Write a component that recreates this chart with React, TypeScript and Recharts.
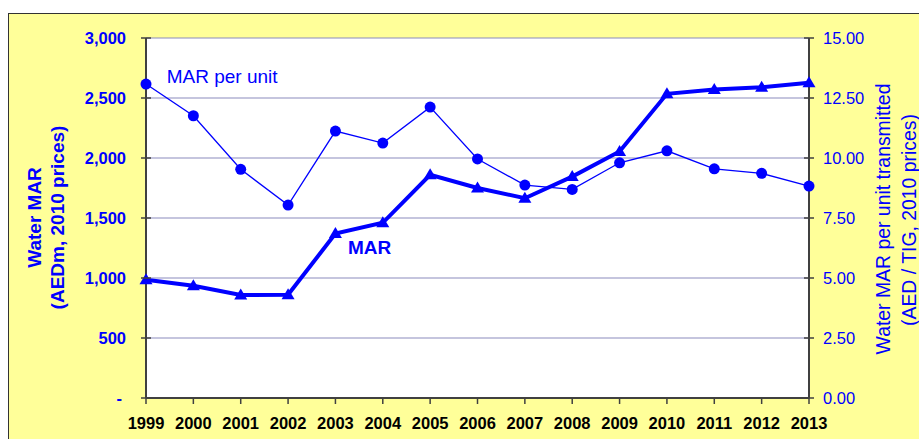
import React from 'react';
import { LineChart, Line, XAxis, YAxis, CartesianGrid } from 'recharts';

const years = ['1999', '2000', '2001', '2002', '2003', '2004', '2005', '2006', '2007', '2008', '2009', '2010', '2011', '2012', '2013'];
const marValues = [985, 935, 858, 860, 1370, 1460, 1860, 1750, 1665, 1845, 2055, 2535, 2570, 2590, 2628];
const marPerUnitValues = [13.08, 11.76, 9.53, 8.04, 11.12, 10.62, 12.12, 9.96, 8.87, 8.69, 9.8, 10.3, 9.55, 9.36, 8.83];
const leftTicks = [0, 500, 1000, 1500, 2000, 2500, 3000];
const rightTicks = [0, 2.5, 5, 7.5, 10, 12.5, 15];

const data = years.map((year, i) => ({
  year,
  mar: marValues[i],
  perUnit: marPerUnitValues[i],
}));

const FONT = '"Liberation Sans", Arial, sans-serif';
const BLUE = '#0000FF';
const AXIS = '#404040';

const LeftTick = (props: any) => {
  const { x, y, payload } = props;
  const v = payload.value;
  const label = v === 0 ? '-' : v.toLocaleString('en-US');
  return (
    <g>
      <line x1={x + 15} y1={y} x2={x + 25} y2={y} stroke={AXIS} strokeWidth={1.5} />
      <text x={v === 0 ? x - 4 : x} y={y} dy="0.355em" textAnchor="end" fill={BLUE} fontSize={16.5} fontWeight="bold" fontFamily={FONT}>
        {label}
      </text>
    </g>
  );
};

const RightTick = (props: any) => {
  const { x, y, payload } = props;
  return (
    <g>
      <line x1={x - 19} y1={y} x2={x - 9} y2={y} stroke={AXIS} strokeWidth={1.5} />
      <text x={x} y={y} dy="0.355em" textAnchor="start" fill={BLUE} fontSize={16.5} fontFamily={FONT}>
        {Number(payload.value).toFixed(2)}
      </text>
    </g>
  );
};

const YearTick = (props: any) => {
  const { x, y, payload } = props;
  return (
    <text x={x} y={y + 25} textAnchor="middle" fill="#000" fontSize={16.5} fontWeight="bold" fontFamily={FONT}>
      {payload.value}
    </text>
  );
};

const Triangle = (props: any) => {
  const { cx, cy, index } = props;
  if (cx == null || cy == null) return null;
  return <path key={`tri-${index}`} d={`M${cx},${cy - 6.5} L${cx + 6.5},${cy + 4.5} L${cx - 6.5},${cy + 4.5} Z`} fill={BLUE} />;
};

export default function App() {
  return (
    <div style={{ position: 'fixed', left: 0, top: 0, width: 919, height: 439, overflow: 'hidden', background: '#fff', fontFamily: FONT }}>
      <div
        style={{
          position: 'absolute',
          left: 8,
          top: 13,
          width: 930,
          height: 450,
          background: '#FFFF99',
          borderLeft: '1.5px solid #333',
          borderTop: '1.5px solid #333',
        }}
      />
      <div style={{ position: 'absolute', left: 8, top: 8 }}>
        <LineChart width={911} height={423} data={data} margin={{ top: 30, right: 0, bottom: 0, left: 0 }}>
          <CartesianGrid yAxisId="left" vertical={false} stroke="#8C8CBE" strokeWidth={1.2} fill="#FFFFFF" />
          <XAxis
            dataKey="year"
            height={33}
            tickSize={6}
            tickMargin={0}
            tick={<YearTick />}
            tickLine={{ stroke: AXIS, strokeWidth: 1.5 }}
            axisLine={{ stroke: AXIS, strokeWidth: 2 }}
            interval={0}
          />
          <YAxis
            yAxisId="left"
            orientation="left"
            width={138}
            domain={[0, 3000]}
            ticks={leftTicks}
            tickSize={5}
            tickMargin={15}
            tickLine={false}
            tick={<LeftTick />}
            axisLine={{ stroke: AXIS, strokeWidth: 2 }}
            interval={0}
          />
          <YAxis
            yAxisId="right"
            orientation="right"
            width={110}
            domain={[0, 15]}
            ticks={rightTicks}
            tickSize={5}
            tickMargin={9}
            tickLine={false}
            tick={<RightTick />}
            axisLine={{ stroke: AXIS, strokeWidth: 2 }}
            interval={0}
          />
          <Line
            yAxisId="right"
            dataKey="perUnit"
            stroke={BLUE}
            strokeWidth={1.3}
            dot={{ r: 5.5, fill: BLUE, stroke: BLUE, strokeWidth: 0 }}
            activeDot={false}
            isAnimationActive={false}
          />
          <Line
            yAxisId="left"
            dataKey="mar"
            stroke={BLUE}
            strokeWidth={4}
            dot={<Triangle />}
            activeDot={false}
            isAnimationActive={false}
          />
        </LineChart>
      </div>
      <svg width={919} height={439} style={{ position: 'absolute', left: 0, top: 0, pointerEvents: 'none' }}>
        <text x={166.7} y={83.3} fill={BLUE} fontSize={19} fontFamily={FONT}>
          MAR per unit
        </text>
        <text x={348} y={254} fill={BLUE} fontSize={19} fontWeight="bold" fontFamily={FONT}>
          MAR
        </text>
        <g transform="rotate(-90)" fill={BLUE} fontFamily={FONT} fontSize={19} fontWeight="bold" textAnchor="middle">
          <text x={-217.5} y={41}>Water MAR</text>
          <text x={-217.5} y={64}>(AEDm, 2010 prices)</text>
        </g>
        <g transform="rotate(-90)" fill={BLUE} fontFamily={FONT} fontSize={19.4} textAnchor="middle">
          <text x={-219} y={890}>Water MAR per unit transmitted</text>
          <text x={-220} y={915.5}>(AED / TIG, 2010 prices)</text>
        </g>
      </svg>
    </div>
  );
}
